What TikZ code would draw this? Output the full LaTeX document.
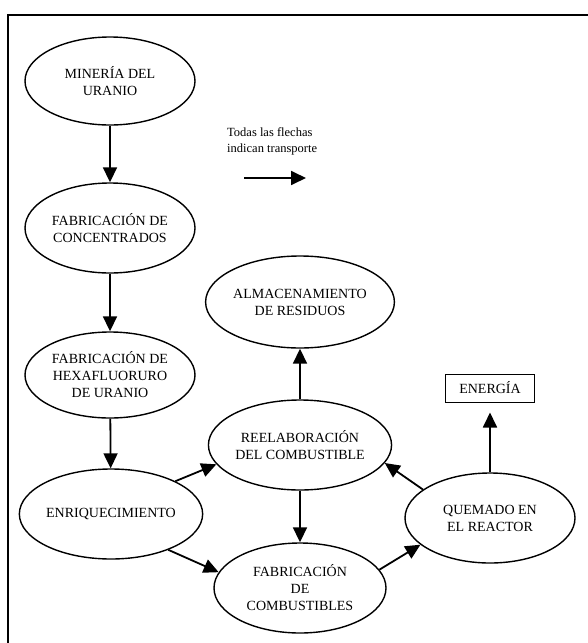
\documentclass[tikz,border=0pt]{standalone}
\usepackage{fontspec}
\setmainfont{Liberation Serif}
\usepackage{tikz}
\usetikzlibrary{positioning,shapes.geometric,arrows.meta,calc}

\begin{document}
\begin{tikzpicture}[
						x=1pt, y=-1pt,
						etapa/.style={draw, line width=1.4pt, ellipse, inner sep=0pt, align=center, font=\fontsize{14}{17}\selectfont, minimum width=170pt, minimum height=88pt},
						caja/.style={draw, line width=1pt, minimum width=89pt, minimum height=28pt, font=\fontsize{14}{17}\selectfont},
						flecha/.style={-{Triangle[length=15pt,width=14pt]}, line width=1.8pt},
						nota/.style={align=left, font=\fontsize{12.5}{16}\selectfont, inner sep=0pt}
						]
						\useasboundingbox (0,0) rectangle (588,643);
						% Marco (cortado a la derecha y abajo)
						\draw[line width=2pt] (8,643) -- (8,15) -- (588,15);
						
						% Columna izquierda
						\node[etapa] (mineria) at (110,81) {MINERÍA DEL\\URANIO};
						\node[etapa, minimum height=90pt] (concent) at (110,228) {FABRICACIÓN DE\\CONCENTRADOS};
						\node[etapa, minimum height=86pt] (hexa) at (110,375) {FABRICACIÓN DE\\HEXAFLUORURO\\DE URANIO};
						\node[etapa, minimum height=90pt] (enriq) at (111,514) {ENRIQUECIMIENTO};
						
						% Ciclo del combustible
						\node[etapa, minimum width=172pt, minimum height=92pt] (alm) at (300,302) {ALMACENAMIENTO\\DE RESIDUOS};
						\node[etapa, minimum width=166pt, minimum height=90pt] (reel) at (300,445) {REELABORACIÓN\\DEL COMBUSTIBLE};
						\node[etapa, minimum width=172pt, minimum height=90pt] (fabc) at (300,588) {FABRICACIÓN\\DE\\COMBUSTIBLES};
						\node[etapa, minimum height=90pt] (quem) at (490,518) {QUEMADO EN\\EL REACTOR};
						\node[caja] (energia) at (490,388) {ENERGÍA};
						
						% Leyenda
						\node[nota, anchor=north west] (leyenda) at (227,127) {Todas las flechas\\indican transporte};
						\coordinate (ley1) at (244,178);
						\coordinate (ley2) at (306,178);
						\draw[flecha] (ley1) -- (ley2);
						
						% Flechas de la columna izquierda
						\foreach \a/\b in {mineria/concent, concent/hexa, hexa/enriq}
						\draw[flecha] (\a) -- (\b);
						
						% Flechas del ciclo
						\draw[flecha] (enriq.27) -- (reel.193);
						\draw[flecha] (enriq.-32) -- (fabc.169);
						\draw[flecha] (reel) -- (alm);
						\draw[flecha] (reel) -- (fabc);
						\draw[flecha] (fabc.13) -- (quem.201);
						\draw[flecha] (quem.157) -- (reel.-12);
						\draw[flecha, shorten >=10pt] (quem) -- (energia);
					\end{tikzpicture}
\end{document}
